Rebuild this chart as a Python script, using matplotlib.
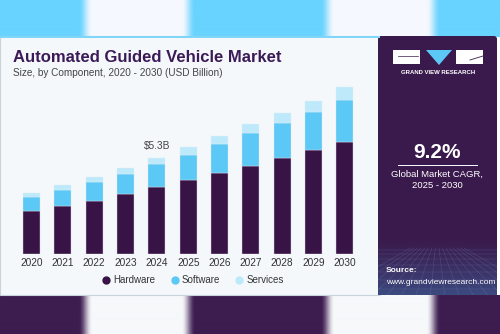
import numpy as np
import matplotlib.pyplot as plt
from matplotlib.patches import Rectangle, FancyBboxPatch, Polygon
from matplotlib.lines import Line2D

plt.rcParams['font.family'] = ['Liberation Sans', 'DejaVu Sans']

years = ['2020', '2021', '2022', '2023', '2024', '2025', '2026', '2027', '2028', '2029', '2030']
hardware = [2.37, 2.64, 2.93, 3.30, 3.67, 4.06, 4.44, 4.84, 5.27, 5.71, 6.16]
software = [0.77, 0.88, 1.05, 1.10, 1.27, 1.41, 1.60, 1.80, 1.94, 2.12, 2.31]
services = [0.20, 0.26, 0.24, 0.35, 0.36, 0.44, 0.46, 0.50, 0.57, 0.59, 0.70]
series_names = ['Hardware', 'Software', 'Services']
highlight_year = '2024'
highlight_label = '$5.3B'
cagr = '9.2%'

purple = '#381446'
blue = '#5BC8F5'
pale = '#BDE9FB'
top_blue = '#68D3FE'
band_purple = '#3D1C50'

fig = plt.figure(figsize=(5, 3.34), dpi=100)

# background decorations in pixel coords
bg = fig.add_axes([0, 0, 1, 1])
bg.set_xlim(0, 500)
bg.set_ylim(334, 0)
bg.axis('off')

xs = np.arange(500)
def strip(x, a, b, soft=14):
    left = np.clip((x - a) / soft, 0, 1)
    right = np.clip((b - x) / soft, 0, 1)
    return np.minimum(left, right)
w = np.maximum(strip(xs, 78, 195), strip(xs, 320, 440))
w = np.sin(w * np.pi / 2) ** 2
def mix(c1, c2, t):
    c1 = np.array(plt.matplotlib.colors.to_rgb(c1))
    c2 = np.array(plt.matplotlib.colors.to_rgb(c2))
    return c1[None, :] * (1 - t[:, None]) + c2[None, :] * t[:, None]
top_row = mix(top_blue, '#F6F8FF', w)
bot_row = mix(band_purple, '#F6F8FA', w)
bg.imshow(top_row[None, :, :], extent=(0, 500, 37, 0), aspect='auto', zorder=0,
          interpolation='bilinear')
bg.imshow(bot_row[None, :, :], extent=(0, 500, 334, 295), aspect='auto', zorder=0,
          interpolation='bilinear')

# white card
bg.add_patch(Rectangle((0, 36), 380, 259, facecolor='#F4F8FB', edgecolor='#C9D3DC', lw=0.8, zorder=1))
bg.add_patch(Rectangle((0, 36), 380, 2.2, facecolor='#7FD6F8', edgecolor='none', zorder=2))

# right panel
panel = FancyBboxPatch((378, 36), 119, 259, boxstyle='round,pad=0,rounding_size=3',
                       facecolor='#3A1A4C', edgecolor='none', zorder=1)
bg.add_patch(panel)
grad = np.linspace(0, 1, 60)
panel_grad = mix('#3A1A4C', '#3C4A80', grad ** 1.3)
bg.imshow(panel_grad[:, None, :], extent=(378, 497, 295, 236), aspect='auto', zorder=2,
          interpolation='bilinear')
for gx in np.linspace(330, 545, 16):
    ln, = bg.plot([437 + (gx - 437) * 0.25, gx], [248, 295], color='#8A9CCB', lw=0.3, alpha=0.35, zorder=3)
    ln.set_clip_path(panel)
for gy in [250, 254, 259, 265, 272, 280, 289]:
    bg.plot([378, 497], [gy, gy], color='#8A9CCB', lw=0.3, alpha=0.35, zorder=3)

# logo
bg.add_patch(Rectangle((393, 50), 27, 14, facecolor='white', edgecolor='none', zorder=4))
bg.add_patch(Polygon([[426, 50], [452, 50], [439, 65]], facecolor='#5BC8F5', edgecolor='none', zorder=4))
bg.add_patch(Rectangle((456, 50), 27, 14, facecolor='white', edgecolor='none', zorder=4))
bg.plot([470, 483], [60, 56], color='#3A1A4C', lw=0.6, zorder=5)
bg.plot([398, 418], [56, 56], color='#3A1A4C', lw=0.5, zorder=5)
bg.text(438, 73, 'GRAND VIEW RESEARCH', color='white', fontsize=4.3, fontweight='bold',
        ha='center', va='center', zorder=5)

bg.text(437, 152, cagr, color='white', fontsize=15, fontweight='bold', ha='center', va='center', zorder=5)
bg.plot([398, 477], [165, 165], color='white', lw=0.7, zorder=5)
bg.text(437, 174, 'Global Market CAGR,', color='white', fontsize=6.8, ha='center', va='center', zorder=5)
bg.text(437, 186, '2025 - 2030', color='white', fontsize=6.8, ha='center', va='center', zorder=5)
bg.text(386, 270, 'Source:', color='white', fontsize=6, fontweight='bold', ha='left', va='center', zorder=5)
bg.text(386, 282, 'www.grandviewresearch.com', color='white', fontsize=6, ha='left', va='center', zorder=5)

# titles
bg.text(13, 58, 'Automated Guided Vehicle Market', color='#3B1A57', fontsize=12,
        fontweight='bold', ha='left', va='center', zorder=5)
bg.text(13, 73, 'Size, by Component, 2020 - 2030 (USD Billion)', color='#444444', fontsize=7.2,
        ha='left', va='center', zorder=5)

# chart axes
ax = fig.add_axes([15.8 / 500, 80 / 334, 344.8 / 500, 174 / 334])
ax.patch.set_alpha(0)
x = np.arange(len(years))
hw = np.array(hardware)
sw = np.array(software)
sv = np.array(services)
ax.bar(x, hw, width=0.54, color=purple, edgecolor='#D8D0E0', linewidth=0.3, label=series_names[0])
ax.bar(x, sw, width=0.54, bottom=hw, color=blue, edgecolor='#D8E8F0', linewidth=0.3, label=series_names[1])
ax.bar(x, sv, width=0.54, bottom=hw + sw, color=pale, edgecolor='#E0F0F8', linewidth=0.3, label=series_names[2])
ax.set_xlim(-0.5, len(years) - 0.5)
ax.set_ylim(0, 9.58)
ax.set_xticks(x)
ax.set_xticklabels(years, fontsize=7.3, color='#333333')
ax.tick_params(axis='x', length=0, pad=3)
ax.set_yticks([])
for s in ax.spines.values():
    s.set_visible(False)

i = years.index(highlight_year)
tot = hw[i] + sw[i] + sv[i]
ax.text(x[i], tot + 0.35, highlight_label, ha='center', va='bottom', fontsize=7.3, color='#444444')

handles = [Line2D([], [], marker='o', ls='none', color=c, markersize=5)
           for c in [purple, blue, pale]]
fig.legend(handles, series_names, loc='center', bbox_to_anchor=(192 / 500, 1 - 280 / 334),
           ncol=3, frameon=False, fontsize=7, handletextpad=0.1, columnspacing=1.4,
           handlelength=1.2, labelcolor='#333333')

fig.savefig('out.png', dpi=100)
